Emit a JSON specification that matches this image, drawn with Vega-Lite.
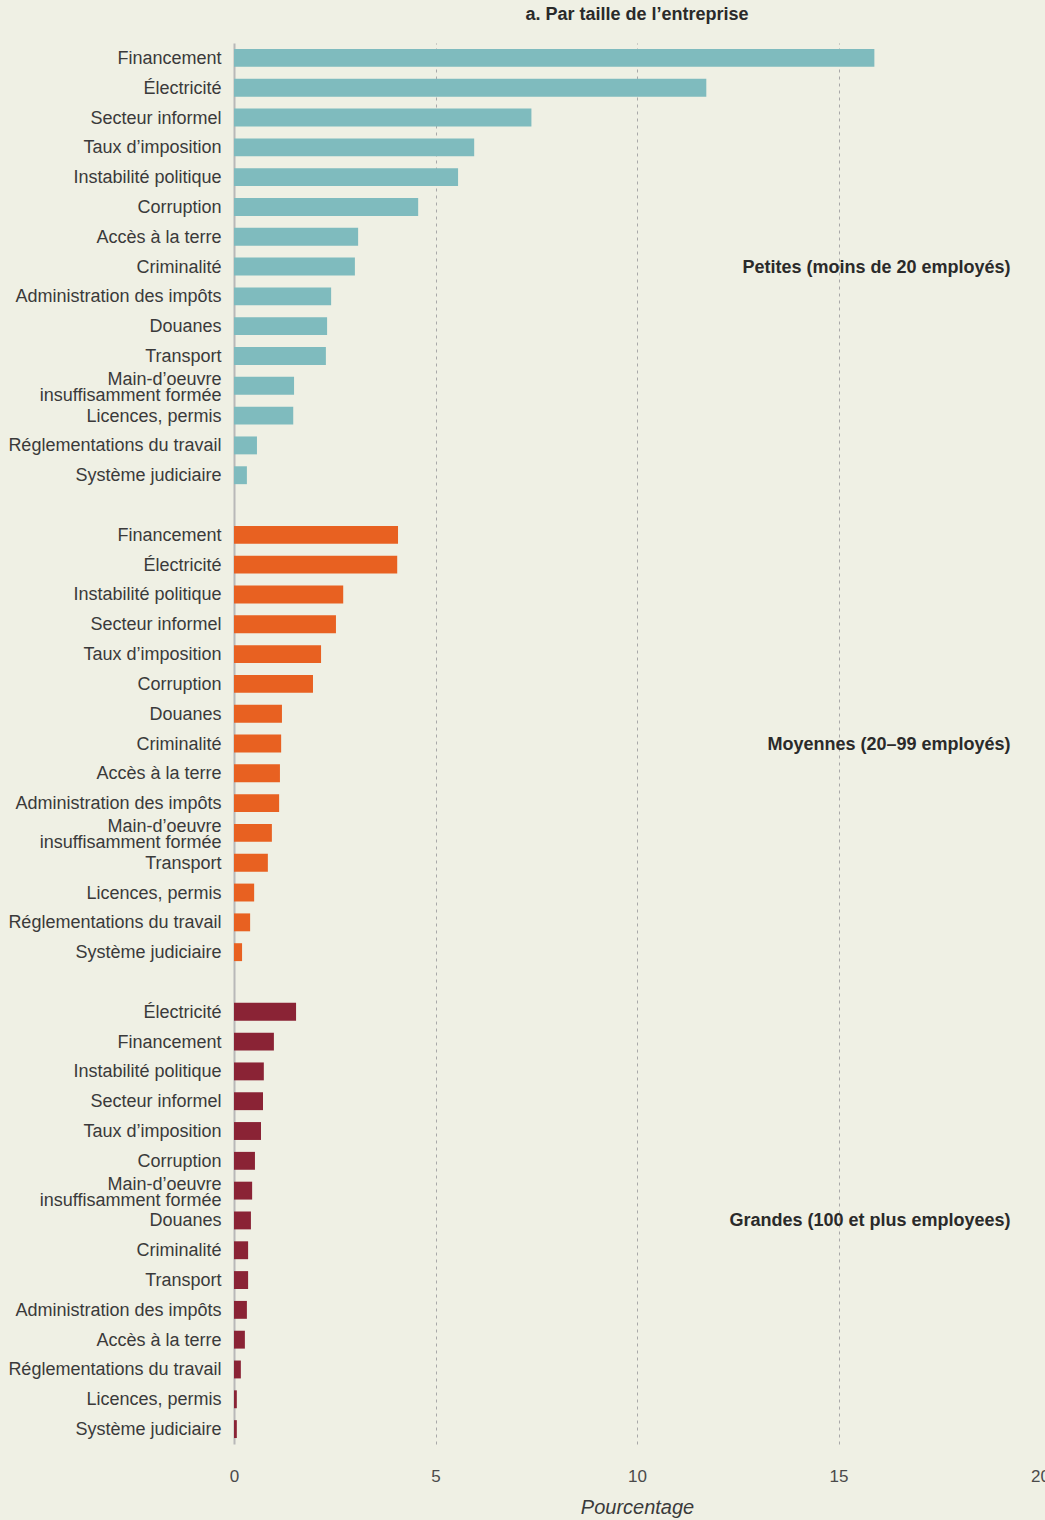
{
  "$schema": "https://vega.github.io/schema/vega-lite/v6.json",
  "autosize": {"type": "none"},
  "width": 806,
  "height": 1401,
  "padding": {"left": 234, "top": 43, "right": 5, "bottom": 76},
  "background": "#eff0e4",
  "title": {"text": "a. Par taille de l’entreprise", "font": "Liberation Sans", "fontSize": 18, "fontWeight": "bold", "color": "#2a2a2a", "anchor": "middle", "offset": 19},
  "config": {"view": {"stroke": null}, "font": "Liberation Sans"},
  "datasets": {
    "bars": [
      {"key": "a Financement", "group": "a", "value": 15.89},
      {"key": "a Électricité", "group": "a", "value": 11.72},
      {"key": "a Secteur informel", "group": "a", "value": 7.38},
      {"key": "a Taux d’imposition", "group": "a", "value": 5.96},
      {"key": "a Instabilité politique", "group": "a", "value": 5.56},
      {"key": "a Corruption", "group": "a", "value": 4.57},
      {"key": "a Accès à la terre", "group": "a", "value": 3.08},
      {"key": "a Criminalité", "group": "a", "value": 3.0},
      {"key": "a Administration des impôts", "group": "a", "value": 2.41},
      {"key": "a Douanes", "group": "a", "value": 2.31},
      {"key": "a Transport", "group": "a", "value": 2.28},
      {"key": "a Main-d’oeuvre/insuffisamment formée", "group": "a", "value": 1.49},
      {"key": "a Licences, permis", "group": "a", "value": 1.47},
      {"key": "a Réglementations du travail", "group": "a", "value": 0.57},
      {"key": "a Système judiciaire", "group": "a", "value": 0.32},
      {"key": "b Financement", "group": "b", "value": 4.07},
      {"key": "b Électricité", "group": "b", "value": 4.05},
      {"key": "b Instabilité politique", "group": "b", "value": 2.71},
      {"key": "b Secteur informel", "group": "b", "value": 2.53},
      {"key": "b Taux d’imposition", "group": "b", "value": 2.16},
      {"key": "b Corruption", "group": "b", "value": 1.96},
      {"key": "b Douanes", "group": "b", "value": 1.19},
      {"key": "b Criminalité", "group": "b", "value": 1.17},
      {"key": "b Accès à la terre", "group": "b", "value": 1.14},
      {"key": "b Administration des impôts", "group": "b", "value": 1.12},
      {"key": "b Main-d’oeuvre/insuffisamment formée", "group": "b", "value": 0.94},
      {"key": "b Transport", "group": "b", "value": 0.84},
      {"key": "b Licences, permis", "group": "b", "value": 0.5},
      {"key": "b Réglementations du travail", "group": "b", "value": 0.4},
      {"key": "b Système judiciaire", "group": "b", "value": 0.2},
      {"key": "c Électricité", "group": "c", "value": 1.54},
      {"key": "c Financement", "group": "c", "value": 0.99},
      {"key": "c Instabilité politique", "group": "c", "value": 0.74},
      {"key": "c Secteur informel", "group": "c", "value": 0.72},
      {"key": "c Taux d’imposition", "group": "c", "value": 0.67},
      {"key": "c Corruption", "group": "c", "value": 0.52},
      {"key": "c Main-d’oeuvre/insuffisamment formée", "group": "c", "value": 0.45},
      {"key": "c Douanes", "group": "c", "value": 0.42},
      {"key": "c Criminalité", "group": "c", "value": 0.35},
      {"key": "c Transport", "group": "c", "value": 0.35},
      {"key": "c Administration des impôts", "group": "c", "value": 0.32},
      {"key": "c Accès à la terre", "group": "c", "value": 0.27},
      {"key": "c Réglementations du travail", "group": "c", "value": 0.17},
      {"key": "c Licences, permis", "group": "c", "value": 0.07},
      {"key": "c Système judiciaire", "group": "c", "value": 0.07}
    ],
    "labels": [
      {"key": "a Criminalité", "x": 19.27, "text": "Petites (moins de 20 employés)"},
      {"key": "b Criminalité", "x": 19.27, "text": "Moyennes (20–99 employés)"},
      {"key": "c Douanes", "x": 19.27, "text": "Grandes (100 et plus employees)"}
    ]
  },
  "layer": [
    {
      "data": {"name": "bars"},
      "mark": {"type": "bar"},
      "encoding": {
        "y": {
          "field": "key", "type": "nominal",
          "scale": {
            "domain": ["a Financement","a Électricité","a Secteur informel","a Taux d’imposition","a Instabilité politique","a Corruption","a Accès à la terre","a Criminalité","a Administration des impôts","a Douanes","a Transport","a Main-d’oeuvre/insuffisamment formée","a Licences, permis","a Réglementations du travail","a Système judiciaire","g1",
              "b Financement","b Électricité","b Instabilité politique","b Secteur informel","b Taux d’imposition","b Corruption","b Douanes","b Criminalité","b Accès à la terre","b Administration des impôts","b Main-d’oeuvre/insuffisamment formée","b Transport","b Licences, permis","b Réglementations du travail","b Système judiciaire","g2",
              "c Électricité","c Financement","c Instabilité politique","c Secteur informel","c Taux d’imposition","c Corruption","c Main-d’oeuvre/insuffisamment formée","c Douanes","c Criminalité","c Transport","c Administration des impôts","c Accès à la terre","c Réglementations du travail","c Licences, permis","c Système judiciaire"],
            "paddingInner": 0.4, "paddingOuter": 0.2
          },
          "axis": {
            "title": null,
            "ticks": false,
            "domainColor": "#b8b8b8",
            "domainWidth": 2,
            "labelExpr": "split(slice(datum.value, 2), '/')",
            "labelFont": "Liberation Sans",
            "labelFontSize": 18,
            "labelColor": "#3a3a3a",
            "labelPadding": 13,
            "labelLineHeight": 16,
            "labelLimit": 400,
            "labelOffset": {"condition": {"test": "indexof(datum.value, '/') >= 0", "value": -6}, "value": 1}
          }
        },
        "x": {
          "field": "value", "type": "quantitative",
          "scale": {"domain": [0, 20], "nice": false},
          "axis": {
            "title": "Pourcentage",
            "titleFont": "Liberation Sans",
            "titleFontSize": 20,
            "titleFontStyle": "italic",
            "titleFontWeight": "normal",
            "titleColor": "#3a3a3a",
            "titlePadding": 13,
            "values": [0, 5, 10, 15, 20],
            "domain": false,
            "ticks": false,
            "labelFont": "Liberation Sans",
            "labelFontSize": 17,
            "labelColor": "#4a4a4a",
            "labelPadding": 24,
            "labelFlush": false,
            "grid": true,
            "gridColor": "#a8a8a8",
            "gridDash": [3, 4],
            "gridWidth": 1,
            "gridOpacity": {"condition": {"test": "datum.value == 0 || datum.value == 20", "value": 0}, "value": 1}
          }
        },
        "color": {
          "field": "group", "type": "nominal",
          "scale": {"domain": ["a", "b", "c"], "range": ["#7fbbbe", "#e86121", "#8a2335"]},
          "legend": null
        }
      }
    },
    {
      "data": {"name": "labels"},
      "mark": {"type": "text", "align": "right", "baseline": "middle", "font": "Liberation Sans", "fontSize": 18, "fontWeight": "bold", "color": "#2a2a2a", "dy": 1},
      "encoding": {
        "y": {"field": "key", "type": "nominal"},
        "x": {"field": "x", "type": "quantitative"},
        "text": {"field": "text"}
      }
    }
  ]
}
